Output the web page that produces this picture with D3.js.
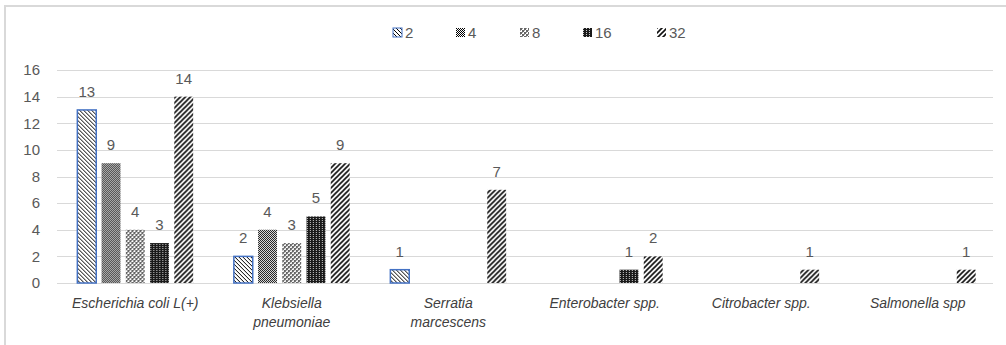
<!DOCTYPE html>
<html><head><meta charset="utf-8">
<script src="https://cdn.jsdelivr.net/npm/d3@7/dist/d3.min.js"></script>
<style>
html,body{margin:0;padding:0;background:#fff;}
svg{display:block;}
text{font-family:"Liberation Sans",Arial,sans-serif;}
</style></head>
<body>
<script>
const categories = [["Escherichia coli L(+)"],["Klebsiella","pneumoniae"],["Serratia","marcescens"],["Enterobacter spp."],["Citrobacter spp."],["Salmonella spp"]];
const seriesNames = ["2","4","8","16","32"];
const values2  = [13, 2, 1, null, null, null];
const values4  = [9, 4, null, null, null, null];
const values8  = [4, 3, null, null, null, null];
const values16 = [3, 5, null, 1, null, null];
const values32 = [14, 9, 7, 2, 1, 1];
const yTicks = [0,2,4,6,8,10,12,14,16];

const seriesValues = [values2, values4, values8, values16, values32];
const W = 1006, H = 345;
const svg = d3.select("body").append("svg").attr("width", W).attr("height", H);
const defs = svg.append("defs");

function pat(id, w, h){ return defs.append("pattern").attr("id", id).attr("patternUnits","userSpaceOnUse").attr("width", w).attr("height", h); }
// 2: dark downward diagonal
let p = pat("p2", 4, 4);
p.append("rect").attr("width",4).attr("height",4).attr("fill","#fff");
p.append("path").attr("d","M-1,-1 L5,5 M-1,3 L1,5 M3,-1 L5,1").attr("stroke","#000").attr("stroke-width",1);
// 4: 50% checker
p = pat("p4", 2, 2);
p.append("rect").attr("width",2).attr("height",2).attr("fill","#fff");
p.append("rect").attr("width",1).attr("height",1).attr("fill","#000");
p.append("rect").attr("x",1).attr("y",1).attr("width",1).attr("height",1).attr("fill","#000");
// 8: small checker board with dots
p = pat("p8", 4, 4);
p.append("rect").attr("width",4).attr("height",4).attr("fill","#fff");
p.append("rect").attr("width",2).attr("height",2).attr("fill","#666");
p.append("rect").attr("x",2).attr("y",2).attr("width",2).attr("height",2).attr("fill","#666");
p.append("rect").attr("x",2).attr("y",0).attr("width",1).attr("height",1).attr("fill","#999");
p.append("rect").attr("x",0).attr("y",2).attr("width",1).attr("height",1).attr("fill","#999");
// 16: dark with light dots
p = pat("p16", 3, 2);
p.append("rect").attr("width",3).attr("height",2).attr("fill","#1a1a1a");
p.append("rect").attr("x",1).attr("y",0).attr("width",1).attr("height",1).attr("fill","#ccc");
// 32: wide upward diagonal
p = pat("p32", 5, 5);
p.append("rect").attr("width",5).attr("height",5).attr("fill","#fff");
p.append("path").attr("d","M-1,6 L6,-1 M-1,1 L1,-1 M4,6 L6,4").attr("stroke","#111").attr("stroke-width",1.6);

const fills = ["url(#p2)","url(#p4)","url(#p8)","url(#p16)","url(#p32)"];
const strokes = ["#4472c4", "none","none","none","none"];

// chart border
svg.append("path").attr("d","M5,345 L5,6 L1006,6").attr("fill","none").attr("stroke","#d9d9d9").attr("stroke-width",2);

const x0 = d3.scaleBand().domain(d3.range(categories.length)).range([57, 996]).paddingInner(0.26).paddingOuter(0.13);
const x1 = d3.scaleBand().domain(d3.range(seriesNames.length)).range([0, x0.bandwidth()]).paddingInner(0.22);
const y = d3.scaleLinear().domain([0,16]).range([283, 70]);

// grid
svg.append("g").selectAll("line").data(yTicks).join("line")
  .attr("x1",57).attr("x2",993).attr("y1",d=>Math.round(y(d))+0.5).attr("y2",d=>Math.round(y(d))+0.5)
  .attr("stroke","#d9d9d9").attr("stroke-width",1);

// y axis labels
const yAxis = d3.axisLeft(y).tickValues(yTicks).tickSize(0).tickPadding(0);
const ya = svg.append("g").attr("transform","translate(40,0)").call(yAxis);
ya.select(".domain").remove();
ya.selectAll("text").attr("font-size",15).attr("fill","#595959").attr("font-family","Liberation Sans, Arial, sans-serif");

// bars
const groups = svg.append("g").selectAll("g").data(categories).join("g")
  .attr("transform",(d,i)=>`translate(${x0(i)},0)`);
groups.each(function(c, ci){
  const g = d3.select(this);
  seriesValues.forEach((vals, si)=>{
    const v = vals[ci];
    if (v == null) return;
    const bx = x1(si), bw = x1.bandwidth();
    g.append("rect").attr("x",bx).attr("y",y(v)).attr("width",bw).attr("height",y(0)-y(v))
      .attr("fill",fills[si]).attr("stroke",strokes[si]).attr("stroke-width",1.5);
    g.append("text").attr("x",bx+bw/2).attr("y",y(v)-13).attr("text-anchor","middle")
      .attr("font-size",15).attr("fill","#595959").text(v);
  });
});

// category labels
const xa = svg.append("g");
categories.forEach((lines, i)=>{
  const t = xa.append("text").attr("x", x0(i)+x0.bandwidth()/2).attr("y",308).attr("text-anchor","middle")
    .attr("font-size",14).attr("font-style","italic").attr("fill","#404040");
  lines.forEach((ln, li)=>{
    t.append("tspan").attr("x", x0(i)+x0.bandwidth()/2).attr("dy", li===0?0:19).text(ln);
  });
});

// legend
const legendX = [393, 456, 520, 583, 657];
const lg = svg.append("g");
seriesNames.forEach((n, i)=>{
  lg.append("rect").attr("x",legendX[i]).attr("y",28).attr("width",9).attr("height",9)
    .attr("fill",fills[i]).attr("stroke",strokes[i]).attr("stroke-width",1);
  lg.append("text").attr("x",legendX[i]+12).attr("y",38).attr("font-size",15).attr("fill","#595959").text(n);
});
</script>
</body></html>
